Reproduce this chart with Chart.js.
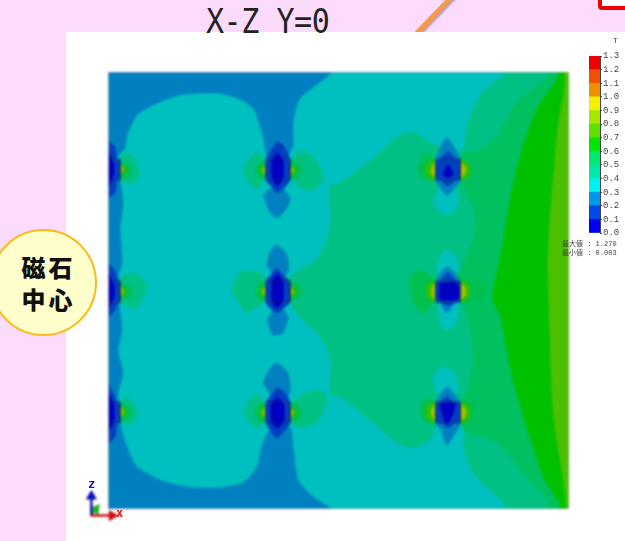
<!DOCTYPE html>
<html>
<head>
<meta charset="utf-8">
<script src="https://cdn.jsdelivr.net/npm/chart.js@4"></script>
<style>
  html, body { margin: 0; padding: 0; width: 625px; height: 541px; overflow: hidden; background: #fddbfd; }
  #stage { position: relative; width: 625px; height: 541px; overflow: hidden; }
  #stage > * { position: absolute; }
  #arrow { left: 427px; top: -16px; width: 5px; height: 72px; background: #f79a45; transform: rotate(44deg); box-shadow: 2px 1px 2px #a9a0b8; }
  #tag { left: 598px; top: -10px; width: 40px; height: 12px; border: 4px solid #f00000; border-radius: 4px; background: #fff; }
  #panel { left: 66px; top: 32px; width: 559px; height: 509px; background: #fff; }
  #title { left: 206px; top: 2px; font: 33px "DejaVu Sans Mono", monospace; color: #222; transform: scaleX(.91); transform-origin: left top; white-space: pre; letter-spacing: -.5px; }
  #magnet { left: -10px; top: 229px; width: 107px; height: 107px; border: 2px solid #fdb913; border-radius: 50%; background: #ffffcc; box-sizing: border-box;
            font: 900 24px/32px "Noto Sans CJK JP", sans-serif; color: #111; text-align: center; display: flex; align-items: center; justify-content: center; padding-left: 10px; letter-spacing: 3px; }
  canvas { filter: blur(.8px); }
  #field { left: 0; top: 0; }
  #legend { left: 585px; top: 45px; filter: blur(.4px); }
  #triad { left: 76px; top: 484px; }
  .small { color: #444; font: 7px "Liberation Mono", "Noto Sans CJK JP", monospace; white-space: pre; filter: blur(.3px); }
  .axis { font: bold 12px "DejaVu Sans Mono", monospace; filter: blur(.3px); }
</style>
</head>
<body>
<div id="stage">
  <div id="arrow"></div>
  <div id="tag"></div>
  <div id="panel"></div>
  <div id="title">X-Z Y=0</div>
  <div id="magnet"><span>磁石<br>中心</span></div>
  <canvas id="field" width="625" height="541"></canvas>
  <canvas id="legend" width="40" height="200"></canvas>
  <canvas id="triad" width="50" height="46"></canvas>
  <div class="small" style="left:613px;top:36px;font-size:8px">T</div>
  <div class="small" style="left:562px;top:238px">最大値 : 1.270</div>
  <div class="small" style="left:562px;top:247px">最小値 : 0.003</div>
  <div class="axis" style="left:88px;top:477px;color:#1a1ab0">z</div>
  <div class="axis" style="left:116px;top:506px;color:#d81818">x</div>
</div>
<script>
// legend levels (T), bottom to top
const levels = ['0.0-0.1', '0.1-0.2', '0.2-0.3', '0.3-0.4', '0.4-0.5', '0.5-0.6', '0.6-0.7', '0.7-0.8', '0.8-0.9', '0.9-1.0', '1.0-1.1', '1.1-1.2', '1.2-1.3'];
const levelSteps = [0.1, 0.1, 0.1, 0.1, 0.1, 0.1, 0.1, 0.1, 0.1, 0.1, 0.1, 0.1, 0.1];
const legendColors = ['#0000f0', '#0048e8', '#0098e8', '#00f0f0', '#00e8a8', '#00e870', '#00e800', '#60e000', '#a8e800', '#f5f000', '#f09000', '#f05000', '#f00000'];

const fieldX = [0, 461];
const fieldZ = [0, 437];

// contours on the X-Z plane
const base = [[[0, 0], [461, 0], [461, 437], [0, 437]]];

const below07 = [[[0, 437], [455, 437], [449, 377], [440, 267], [440, 219], [445, 96], [457, 0], [0, 0]]];

const below06 = [[[0, 437], [447, 437], [429, 401], [414, 361], [402, 311], [395, 271], [389, 237], [384, 211], [392, 192], [402, 139], [419, 79], [435, 32], [449, 0], [0, 0]]];

const below05 = [[[0, 437], [439, 437], [409, 407], [389, 374], [372, 359], [355, 356], [352, 327], [365, 301], [365, 271], [352, 237], [354, 209], [362, 182], [365, 152], [360, 122], [354, 107], [352, 81], [389, 66], [412, 39], [437, 0], [0, 0]]];

const below04 = [
  [[0, 437], [395, 437], [372, 414], [359, 384], [352, 357], [322, 367], [305, 377], [289, 372], [265, 351], [232, 326], [222, 322], [222, 284], [209, 251], [182, 231], [182, 207], [192, 192], [212, 172], [222, 149], [222, 114], [232, 112], [265, 86], [289, 66], [305, 61], [322, 69], [329, 82], [354, 82], [355, 62], [365, 36], [395, 0], [0, 0]],
  [[325, 307], [332, 297], [339, 294], [347, 299], [351, 311], [345, 321], [332, 321]],
  [[329, 244], [335, 257], [344, 257], [350, 244], [349, 227], [330, 227]],
  [[330, 196], [335, 181], [344, 181], [350, 192], [349, 206], [332, 206]],
  [[325, 129], [330, 139], [339, 142], [347, 134], [349, 116], [329, 116]]
];

const below03 = [
  [[0, 437], [222, 437], [192, 411], [185, 387], [185, 364], [180, 354], [159, 354], [155, 374], [145, 401], [129, 411], [109, 416], [72, 414], [45, 404], [29, 394], [19, 374], [17, 361], [9, 351], [12, 331], [15, 304], [12, 281], [14, 247], [10, 231], [12, 199], [14, 179], [10, 159], [15, 136], [10, 116], [12, 86], [19, 62], [29, 42], [52, 29], [79, 22], [109, 21], [135, 26], [149, 42], [155, 66], [164, 82], [182, 82], [185, 62], [190, 29], [205, 12], [222, 0], [0, 0]],
  [[155, 314], [162, 297], [169, 291], [179, 301], [182, 311], [170, 325]],
  [[159, 244], [162, 257], [169, 264], [179, 254], [180, 237], [170, 228]],
  [[159, 189], [165, 174], [175, 176], [180, 192], [170, 205]],
  [[155, 126], [162, 141], [169, 146], [180, 136], [182, 116], [170, 105]],
  [[328, 350], [332, 361], [339, 371], [349, 357], [352, 350], [352, 329], [347, 321], [339, 314], [330, 324], [328, 329]],
  [[328, 228], [332, 236], [339, 242], [347, 236], [352, 228], [352, 207], [347, 206], [339, 196], [332, 206], [328, 207]],
  [[328, 107], [332, 114], [339, 122], [347, 114], [352, 107], [352, 86], [349, 79], [339, 64], [333, 79], [328, 86]]
];

// field lobes either side of each magnet, column by column
const lobes04 = [
  [[182, 349], [189, 356], [199, 357], [209, 347], [215, 331], [205, 319], [192, 322], [182, 329], [158, 331], [152, 322], [142, 324], [136, 337], [139, 347], [149, 357], [158, 350]],
  [[158, 231], [149, 237], [132, 237], [124, 221], [125, 216], [139, 197], [155, 206], [182, 207], [182, 231]],
  [[182, 106], [195, 114], [209, 119], [219, 112], [215, 96], [205, 84], [192, 81], [182, 86], [158, 86], [149, 81], [139, 89], [137, 102], [149, 114], [158, 106]],
  [[12, 351], [19, 356], [27, 349], [31, 337], [27, 327], [15, 327], [12, 330]],
  [[12, 231], [22, 236], [34, 231], [39, 221], [35, 212], [29, 201], [17, 204], [12, 207]],
  [[12, 107], [19, 112], [27, 102], [29, 92], [20, 84], [12, 87]]
];

const lobes05 = [
  [[182, 347], [189, 347], [194, 338], [189, 331], [182, 331], [158, 331], [151, 331], [148, 339], [151, 347], [158, 347]],
  [[182, 226], [189, 226], [194, 217], [189, 209], [182, 209], [158, 209], [151, 209], [148, 217], [151, 226], [158, 226]],
  [[182, 105], [189, 105], [194, 96], [189, 88], [182, 88], [158, 88], [151, 88], [148, 96], [151, 105], [158, 105]],
  [[12, 346], [20, 344], [24, 338], [20, 332], [12, 332]],
  [[12, 225], [20, 223], [24, 217], [20, 211], [12, 211]],
  [[12, 105], [20, 103], [24, 97], [20, 91], [12, 89]],
  [[352, 349], [360, 347], [364, 339], [360, 331], [352, 329], [328, 329], [315, 329], [310, 341], [317, 356], [328, 349]],
  [[352, 236], [369, 227], [379, 224], [372, 209], [352, 207], [328, 209], [315, 196], [304, 209], [302, 231], [312, 239], [328, 231]],
  [[352, 107], [362, 111], [368, 97], [362, 86], [352, 86], [328, 86], [317, 87], [312, 99], [317, 111], [328, 107]]
];

const lobes06 = [
  [[182, 345], [188, 340], [182, 333], [158, 333], [152, 339], [158, 345]],
  [[182, 224], [188, 218], [182, 211], [158, 211], [152, 218], [158, 224]],
  [[182, 103], [188, 97], [182, 90], [158, 90], [152, 97], [158, 103]],
  [[12, 345], [18, 340], [12, 334]],
  [[12, 224], [18, 218], [12, 212]],
  [[12, 104], [18, 98], [12, 91]],
  [[352, 349], [360, 346], [362, 339], [360, 332], [352, 329], [328, 329], [320, 332], [318, 339], [320, 346], [328, 349]],
  [[352, 228], [360, 225], [362, 218], [360, 211], [352, 207], [328, 207], [320, 211], [318, 218], [320, 225], [328, 228]],
  [[352, 107], [360, 104], [362, 97], [360, 90], [352, 86], [328, 86], [320, 90], [318, 97], [320, 104], [328, 107]]
];

const lobes08 = [
  [[182, 343], [185, 339], [182, 335], [158, 335], [155, 339], [158, 343]],
  [[182, 222], [185, 218], [182, 213], [158, 213], [155, 218], [158, 222]],
  [[182, 101], [185, 97], [182, 92], [158, 92], [155, 97], [158, 101]],
  [[12, 344], [15, 340], [12, 336]],
  [[12, 223], [15, 218], [12, 213]],
  [[12, 102], [15, 97], [12, 92]],
  [[352, 346], [356, 344], [358, 339], [356, 334], [352, 332], [328, 332], [325, 334], [323, 339], [325, 344], [328, 346]],
  [[352, 225], [356, 223], [358, 218], [356, 212], [352, 210], [328, 210], [325, 212], [323, 218], [325, 223], [328, 225]],
  [[352, 104], [356, 102], [358, 97], [356, 91], [352, 89], [328, 89], [325, 91], [323, 97], [325, 102], [328, 104]]
];

const below02 = [
  [[169, 368], [162, 357], [158, 350], [158, 329], [164, 322], [169, 316], [177, 322], [182, 329], [182, 350], [175, 364]],
  [[169, 241], [160, 231], [158, 228], [158, 207], [162, 201], [169, 196], [177, 202], [182, 207], [182, 228], [178, 231]],
  [[169, 122], [162, 112], [158, 107], [158, 86], [162, 79], [169, 71], [177, 79], [182, 86], [182, 107], [177, 116]],
  [[0, 369], [7, 362], [9, 349], [12, 350], [12, 329], [9, 329], [7, 316], [0, 312]],
  [[0, 246], [7, 238], [9, 231], [12, 228], [12, 207], [9, 205], [7, 199], [0, 192]],
  [[0, 126], [7, 112], [9, 107], [12, 107], [12, 86], [9, 86], [7, 72], [0, 66]],
  [[340, 358], [332, 350], [328, 350], [328, 329], [332, 329], [340, 323], [348, 329], [352, 329], [352, 350], [348, 350]],
  [[340, 237], [332, 228], [328, 228], [328, 207], [332, 207], [340, 203], [348, 207], [352, 207], [352, 228], [348, 228]],
  [[339, 113], [332, 107], [328, 107], [328, 86], [333, 86], [340, 81], [347, 86], [352, 86], [352, 107], [346, 107]]
];

const below01 = [
  [[169, 357], [164, 349], [164, 331], [169, 323], [175, 331], [175, 349]],
  [[169, 236], [164, 228], [164, 208], [169, 201], [175, 208], [175, 228]],
  [[169, 112], [163, 105], [163, 88], [169, 81], [176, 88], [176, 105]],
  [[0, 357], [6, 345], [6, 335], [0, 322]],
  [[0, 236], [6, 225], [6, 212], [0, 201]],
  [[0, 116], [6, 105], [6, 88], [0, 78]],
  [[340, 345], [345, 335], [340, 331], [335, 335]],
  [[332, 226], [349, 226], [350, 210], [332, 210]],
  [[332, 106], [347, 106], [345, 95], [339, 85], [334, 95]]
];

const magnetBoxes = [
  [[0, 350], [12, 350], [12, 329], [0, 329]],
  [[0, 228], [12, 228], [12, 207], [0, 207]],
  [[0, 107], [12, 107], [12, 86], [0, 86]],
  [[158, 350], [182, 350], [182, 329], [158, 329]],
  [[158, 228], [182, 228], [182, 207], [158, 207]],
  [[158, 107], [182, 107], [182, 86], [158, 86]],
  [[328, 350], [352, 350], [352, 329], [328, 329]],
  [[328, 228], [352, 228], [352, 207], [328, 207]],
  [[328, 107], [352, 107], [352, 86], [328, 86]]
];

// small X/Y/Z triad under the plot
const axisX = [[11, 11], [40, 11]];
const axisZ = [[12, 11], [12, 38]];
const axisY = [[11, 11], [18, 20]];

// painted back to front
const layers = [
  { polys: base, color: '#4cc000', tension: 0 },
  { polys: below07, color: '#00c000', tension: 0.3 },
  { polys: below06, color: '#00c060', tension: 0.3 },
  { polys: below05, color: '#00c084', tension: 0.3 },
  { polys: below04, color: '#00bfbf', tension: 0.3 },
  { polys: lobes04, color: '#00c084', tension: 0.3 },
  { polys: lobes05, color: '#00c050', tension: 0.3 },
  { polys: lobes06, color: '#30c000', tension: 0.3 },
  { polys: lobes08, color: '#a0c000', tension: 0.3 },
  { polys: below03, color: '#0080c0', tension: 0.2 },
  { polys: below02, color: '#0040c0', tension: 0.2 },
  { polys: below01, color: '#0000c0', tension: 0.2 }
];

function toPoints(poly) {
  const pts = poly.map(function(p) { return { x: p[0], y: p[1] }; });
  pts.push(pts[0]);
  return pts;
}

const datasets = [];
layers.forEach(function(layer) {
  layer.polys.forEach(function(poly) {
    datasets.push({
      data: toPoints(poly),
      showLine: true,
      fill: 'shape',
      backgroundColor: layer.color,
      borderColor: layer.color,
      borderWidth: 0.5,
      pointRadius: 0,
      tension: layer.tension
    });
  });
});

magnetBoxes.forEach(function(poly) {
  datasets.push({ data: toPoints(poly), showLine: true, fill: false, borderColor: 'rgba(30,50,90,0.55)', borderWidth: 1, pointRadius: 0 });
});

datasets.push({ data: toPoints(base[0]), showLine: true, fill: false, borderColor: '#8fa0a8', borderWidth: 1, pointRadius: 0 });

// first dataset goes at the back
datasets.forEach(function(d, i) { d.order = datasets.length - i; });

new Chart(document.getElementById('field'), {
  type: 'scatter',
  data: { datasets: datasets },
  options: {
    responsive: false,
    animation: false,
    events: [],
    layout: { padding: { left: 108, top: 72, right: 56, bottom: 32 } },
    plugins: { legend: { display: false }, tooltip: { enabled: false } },
    scales: {
      x: { type: 'linear', min: fieldX[0], max: fieldX[1], display: false },
      y: { type: 'linear', min: fieldZ[0], max: fieldZ[1], display: false }
    }
  }
});

new Chart(document.getElementById('legend'), {
  type: 'bar',
  data: {
    labels: ['T'],
    datasets: levels.map(function(name, i) {
      return { label: name, data: [levelSteps[i]], backgroundColor: legendColors[i], barPercentage: 1, categoryPercentage: 1 };
    })
  },
  options: {
    responsive: false,
    animation: false,
    events: [],
    layout: { padding: { left: 4, top: 11, right: 0, bottom: 12 } },
    plugins: { legend: { display: false }, tooltip: { enabled: false } },
    scales: {
      x: { stacked: true, display: false },
      y: {
        stacked: true,
        position: 'right',
        min: 0,
        max: 1.3,
        afterFit: function(axis) { axis.width = 25; axis.paddingTop = 0; axis.paddingBottom = 0; },
        border: { color: '#444' },
        grid: { drawOnChartArea: false, tickLength: 2, color: '#444' },
        ticks: {
          autoSkip: false,
          stepSize: 0.1,
          padding: 1,
          color: '#444',
          font: { family: 'Liberation Mono', size: 9 },
          callback: function(v) { return v.toFixed(1); }
        }
      }
    }
  }
});

function axisArrow(points, color, rotation) {
  return {
    data: points.map(function(p) { return { x: p[0], y: p[1] }; }),
    showLine: true,
    borderColor: color,
    backgroundColor: color,
    borderWidth: 2.5,
    pointRadius: [0, 4],
    pointStyle: 'triangle',
    pointRotation: rotation
  };
}

new Chart(document.getElementById('triad'), {
  type: 'scatter',
  data: { datasets: [axisArrow(axisX, '#cc1010', 90), axisArrow(axisZ, '#1010b0', 0), axisArrow(axisY, '#20b020', 38)] },
  options: {
    responsive: false,
    animation: false,
    events: [],
    plugins: { legend: { display: false }, tooltip: { enabled: false } },
    scales: {
      x: { type: 'linear', min: 0, max: 50, display: false },
      y: { type: 'linear', min: 0, max: 46, display: false }
    }
  }
});
</script>
</body>
</html>
